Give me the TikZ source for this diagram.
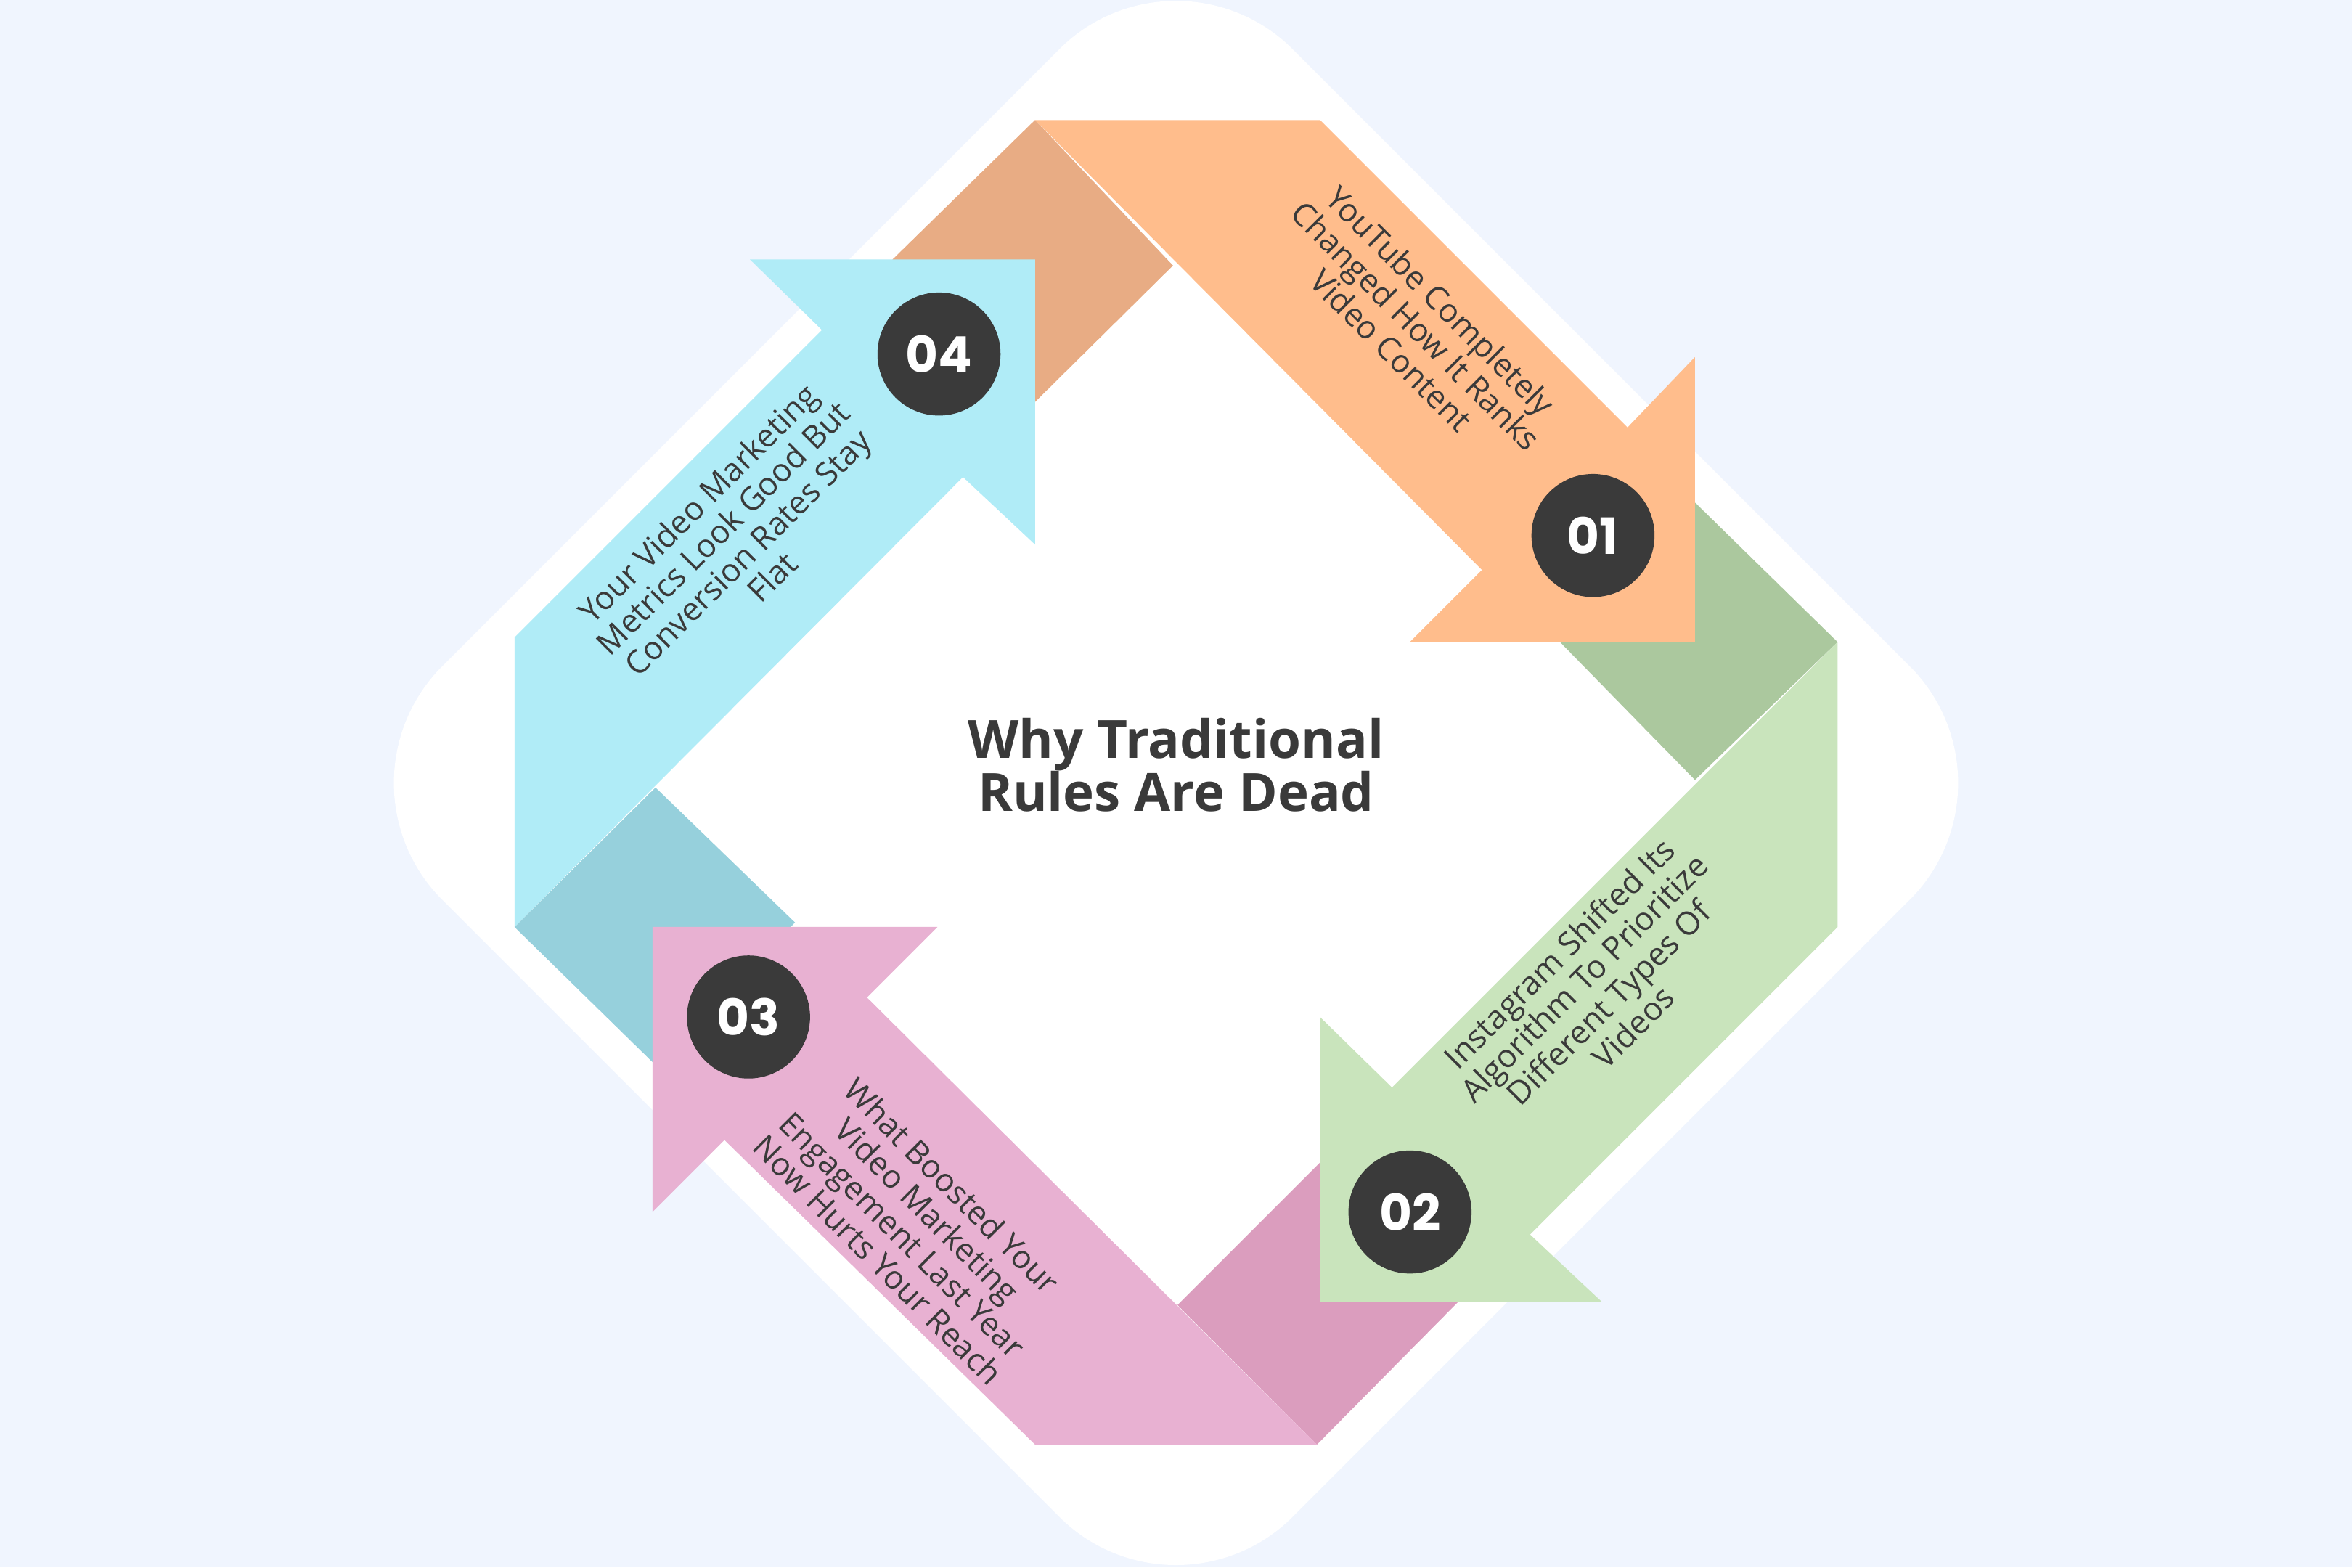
\documentclass[tikz,border=0pt]{standalone}
\usepackage{fontspec}
\setmainfont{Open Sans}
\newfontfamily\numfont{Poppins}
\definecolor{bgc}{HTML}{F0F5FE}
\definecolor{dark}{HTML}{3A3A3A}
\definecolor{orA}{HTML}{FFBD8C}\definecolor{orF}{HTML}{E8AC84}
\definecolor{grA}{HTML}{C9E4BC}\definecolor{grF}{HTML}{ABC89E}
\definecolor{piA}{HTML}{E8B1D2}\definecolor{piF}{HTML}{DB9DBE}
\definecolor{blA}{HTML}{B0ECF7}\definecolor{blF}{HTML}{96D0DC}
\tikzset{
 num/.style={circle,fill=dark,minimum size=0.82cm,inner sep=0pt,text=white,font=\numfont\bfseries\fontsize{9.5}{9.5}\selectfont},
 lbl/.style={text=dark,align=center,font=\fontsize{6.1}{6.6}\selectfont},
}
\begin{document}
\begin{tikzpicture}[x=0.01cm,y=-0.01cm]
\fill[bgc] (0,0) rectangle (1568,1045);
\useasboundingbox (0,0) rectangle (1568,1045);
\fill[white,rounded corners=1.1cm] (784,-45) -- (1351,522) -- (784,1089) -- (217,522) -- cycle;
% folds
\fill[orF] (690,80) -- (782,177) -- (690,268) -- (595,173) -- cycle;
\fill[grF] (1130,335) -- (1225,428) -- (1130,520) -- (1040,428) -- cycle;
\fill[piF] (878,963) -- (785,870) -- (880,775) -- (972,868) -- cycle;
\fill[blF] (343,618) -- (437,525) -- (530,615) -- (437,710) -- cycle;
% arrows
\fill[orA] (690,80) -- (880,80) -- (1085,285) -- (1130,238) -- (1130,428) -- (940,428) -- (988,380) -- cycle;
\fill[grA] (1225,428) -- (1225,618) -- (1020,823) -- (1068,868) -- (880,868) -- (880,678) -- (928,725) -- cycle;
\fill[piA] (878,963) -- (690,963) -- (483,760) -- (435,808) -- (435,618) -- (625,618) -- (578,665) -- cycle;
\fill[blA] (343,618) -- (343,425) -- (548,220) -- (500,173) -- (690,173) -- (690,363) -- (642,318) -- cycle;
% numbers
\node[num] (n1) at (1062,357) {01};
\node[num] (n2) at (940,808) {02};
\node[num] (n3) at (499,678) {03};
\node[num] (n4) at (626,236) {04};
% labels
\node[lbl,rotate=-45] (t1) at (944,217) {YouTube Completely\\Changed How It Ranks\\Video Content};
\node[lbl,rotate=45] (t2) at (1064,660) {Instagram Shifted Its\\Algorithm To Prioritize\\Different Types Of\\Videos};
\node[lbl,rotate=-45] (t3) at (610,815) {What Boosted Your\\Video Marketing\\Engagement Last Year\\Now Hurts Your Reach};
\node[lbl,rotate=45] (t4) at (490,360) {Your Video Marketing\\Metrics Look Good But\\Conversion Rates Stay\\Flat};
\node[text=dark,align=center,font=\bfseries\fontsize{10}{10}\selectfont] (title) at (784,510) {Why Traditional\\Rules Are Dead};
\end{tikzpicture}
\end{document}
